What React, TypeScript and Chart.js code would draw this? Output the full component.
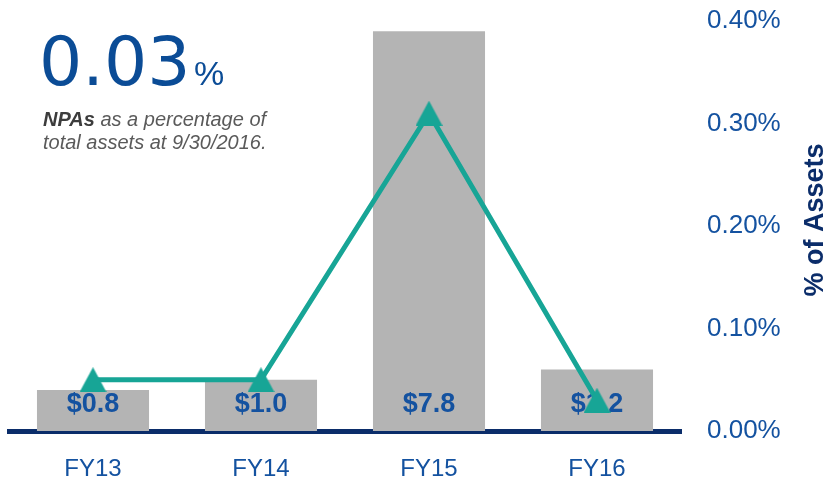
import React, { useEffect, useRef } from "react";
import { Chart, registerables } from "chart.js";

Chart.register(...registerables);

const categories = ["FY13", "FY14", "FY15", "FY16"];
const npaAmounts = [0.8, 1.0, 7.8, 1.2]; // $ millions (bars, hidden left axis)
const npaPctOfAssets = [0.05, 0.05, 0.31, 0.03]; // % of assets (line, right axis)
const barLabels = ["$0.8", "$1.0", "$7.8", "$1.2"];
const amountAxisMax = 8;
const pctAxisMax = 0.4;
const pctAxisStep = 0.1;

const BLUE = "#1452a0";
const NAVY = "#0b2d6a";
const TEAL = "#17a596";
const GRAY = "#b4b4b4";
const FONT = "'Liberation Sans', Arial, sans-serif";

function makeTriangleMarker(w: number, h: number, color: string) {
  const c = document.createElement("canvas");
  c.width = w;
  c.height = h;
  const g = c.getContext("2d");
  if (g) {
    g.fillStyle = color;
    g.beginPath();
    g.moveTo(w / 2, 0);
    g.lineTo(w, h);
    g.lineTo(0, h);
    g.closePath();
    g.fill();
  }
  return c;
}

export default function App() {
  const canvasRef = useRef<HTMLCanvasElement | null>(null);

  useEffect(() => {
    document.body.style.margin = "0";
    const canvas = canvasRef.current;
    if (!canvas) return;

    const marker = makeTriangleMarker(27, 25, TEAL);

    const barLabelPlugin = {
      id: "barLabels",
      afterDatasetDraw(chart: any, args: any) {
        if (args.index !== 0) return;
        const ctx = chart.ctx;
        const meta = chart.getDatasetMeta(0);
        const y = chart.scales.y.getPixelForValue(0) - 26;
        ctx.save();
        ctx.font = `bold 27px ${FONT}`;
        ctx.fillStyle = BLUE;
        ctx.textAlign = "center";
        ctx.textBaseline = "middle";
        meta.data.forEach((el: any, i: number) => {
          ctx.fillText(barLabels[i], el.x, y);
        });
        ctx.restore();
      },
    };

    const axisTitlePlugin = {
      id: "axisTitle",
      afterDraw(chart: any) {
        const ctx = chart.ctx;
        ctx.save();
        ctx.translate(816, 220);
        ctx.rotate(-Math.PI / 2);
        ctx.font = `bold 27px ${FONT}`;
        ctx.fillStyle = NAVY;
        ctx.textAlign = "center";
        ctx.textBaseline = "middle";
        ctx.fillText("% of Assets", 0, 0);
        ctx.restore();
      },
    };

    const chart = new Chart(canvas, {
      type: "bar",
      data: {
        labels: categories,
        datasets: [
          {
            type: "bar",
            label: "NPAs ($M)",
            data: npaAmounts,
            backgroundColor: GRAY,
            borderWidth: 0,
            yAxisID: "y",
            order: 2,
            categoryPercentage: 1,
            barPercentage: 0.667,
          },
          {
            type: "line",
            label: "% of Assets",
            data: npaPctOfAssets,
            borderColor: TEAL,
            backgroundColor: TEAL,
            borderWidth: 5,
            pointStyle: marker,
            pointRadius: 14,
            pointBackgroundColor: TEAL,
            pointBorderColor: TEAL,
            pointBorderWidth: 0,
            tension: 0,
            yAxisID: "y1",
            order: 1,
          },
        ],
      } as any,
      options: {
        animation: false,
        responsive: false,
        maintainAspectRatio: false,
        layout: { autoPadding: false, padding: { left: 9, top: 21, right: 0, bottom: 0 } },
        plugins: {
          legend: { display: false },
          tooltip: { enabled: false },
          title: { display: false },
        },
        scales: {
          x: {
            type: "category",
            grid: { display: false },
            border: { display: true, color: NAVY, width: 5 },
            ticks: {
              color: BLUE,
              font: { family: FONT, size: 24 },
              padding: 16,
              maxRotation: 0,
            },
            afterFit: (scale: any) => {
              scale.height = 46;
              scale.paddingLeft = 0;
              scale.paddingRight = 0;
            },
          },
          y: {
            display: false,
            min: 0,
            max: amountAxisMax,
          },
          y1: {
            position: "right",
            min: 0,
            max: pctAxisMax,
            grid: { display: false },
            border: { display: false },
            ticks: {
              stepSize: pctAxisStep,
              color: BLUE,
              font: { family: FONT, size: 26 },
              padding: 18,
              callback: (v: any) => Number(v).toFixed(2) + "%",
            },
            afterFit: (scale: any) => {
              scale.width = 147;
              scale.paddingTop = 0;
              scale.paddingBottom = 0;
            },
          },
        },
      } as any,
      plugins: [barLabelPlugin, axisTitlePlugin],
    });

    return () => chart.destroy();
  }, []);

  return (
    <div style={{ position: "relative", width: 828, height: 477, background: "#fff" }}>
      <canvas ref={canvasRef} width={828} height={477} style={{ display: "block" }} />
      <div
        style={{
          position: "absolute",
          left: 39,
          top: 28,
          fontFamily: "'DejaVu Sans', sans-serif",
          fontSize: 68,
          lineHeight: "68px",
          color: "#0b4c96",
          whiteSpace: "nowrap",
        }}
      >
        0.03
      </div>
      <div
        style={{
          position: "absolute",
          left: 194,
          top: 56,
          fontFamily: FONT,
          fontSize: 34,
          lineHeight: "34px",
          color: "#0b4c96",
        }}
      >
        %
      </div>
      <div
        style={{
          position: "absolute",
          left: 43,
          top: 108,
          fontFamily: FONT,
          fontSize: 20,
          lineHeight: "23px",
          fontStyle: "italic",
          color: "#5a5a5a",
          whiteSpace: "nowrap",
        }}
      >
        <b style={{ color: "#3c3c3c" }}>NPAs</b> as a percentage of
        <br />
        total assets at 9/30/2016.
      </div>
    </div>
  );
}
